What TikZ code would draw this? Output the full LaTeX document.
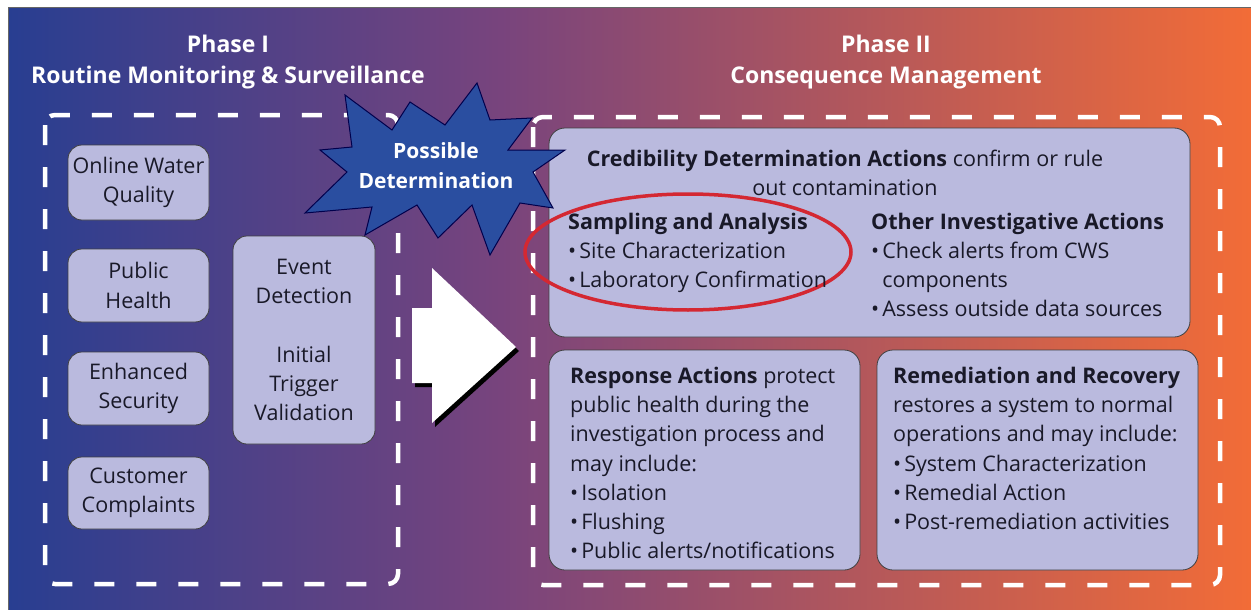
\documentclass[tikz,border=0pt]{standalone}
\usepackage{fontspec}
\setmainfont{Open Sans}
\definecolor{bgA}{RGB}{40,62,145}
\definecolor{bgB}{RGB}{120,68,125}
\definecolor{bgC}{RGB}{242,108,55}
\definecolor{boxfill}{RGB}{186,186,222}
\definecolor{starblue}{RGB}{42,78,160}
\definecolor{ringred}{RGB}{212,40,50}
\definecolor{inktext}{RGB}{25,25,40}
\newcommand\boxfont{\fontsize{21.5}{29.2}\selectfont}
\newcommand\titlefont{\bfseries\fontsize{23}{31}\selectfont}
\newcommand\starfont{\bfseries\fontsize{21}{30}\selectfont}
\newcommand\bul{•\hspace{3pt}}
\begin{document}
\begin{tikzpicture}[x=1pt,y=-1pt,
  dashframe/.style={draw=white, line width=4.5pt, dash pattern=on 20pt off 22pt, rounded corners=10pt},
  srcbox/.style={draw=black!75, fill=boxfill, rounded corners=14pt, line width=0.8pt, inner sep=0pt, align=center, font=\boxfont, text=inktext},
  bigbox/.style={draw=black!75, fill=boxfill, rounded corners=16pt, line width=0.8pt, inner sep=0pt},
  bodytext/.style={anchor=north west, inner sep=0pt, align=left, font=\boxfont, text=inktext},
  titletext/.style={text=white, font=\titlefont, align=center, inner sep=0pt}
]
\useasboundingbox (0,0) rectangle (1251,610);
% background
\fill[white] (0,0) rectangle (1251,610);
\shade[left color=bgA, right color=bgB] (8,8) rectangle (500.5,610);
\shade[left color=bgB, right color=bgC] (500,8) rectangle (1251,610);
\draw[black!60, line width=1pt] (8,610) -- (8,8) -- (1251,8);
% titles
\node[titletext] (p1) at (228,62) {Phase I\\Routine Monitoring \& Surveillance};
\node[titletext] (p2) at (886,62) {Phase II\\Consequence Management};
% dashed frames
\draw[dashframe] (45,115) rectangle (398,584);
\draw[dashframe] (533,117) rectangle (1220,585);
% phase I boxes
\node[srcbox, minimum width=141pt, minimum height=75pt] (owq) at (138.5,182.5) {Online Water\\Quality};
\node[srcbox, minimum width=141pt, minimum height=73pt] (ph) at (138.5,285.5) {Public\\Health};
\node[srcbox, minimum width=141pt, minimum height=73pt] (es) at (138.5,388.5) {Enhanced\\Security};
\node[srcbox, minimum width=141pt, minimum height=72pt] (cc) at (138.5,493) {Customer\\Complaints};
\node[srcbox, minimum width=142pt, minimum height=208pt] (edv) at (304,340) {Event\\Detection\\[29.2pt]Initial\\Trigger\\Validation};
% phase II boxes
\node[bigbox, minimum width=641pt, minimum height=209pt] (cred) at (869.5,232.5) {};
\node[bigbox, minimum width=311pt, minimum height=220pt] (resp) at (704.5,460) {};
\node[bigbox, minimum width=321pt, minimum height=220pt] (rem) at (1037.5,460) {};
% credibility texts
\node[inner sep=0pt, align=center, font=\boxfont, text=inktext] (credtitle) at (845,173) {\textbf{Credibility Determination Actions} confirm or rule\\out contamination};
\draw[ringred, line width=3.5pt] (688,252) ellipse [x radius=163, y radius=58];
\node[bodytext] (samp) at (568,212.5) {\textbf{Sampling and Analysis}\\\bul Site Characterization\\\bul Laboratory Confirmation};
\node[bodytext] (other) at (871,212.5) {\textbf{Other Investigative Actions}\\\bul Check alerts from CWS\\\phantom{\bul}components\\\bul Assess outside data sources};
% response / remediation texts
\node[bodytext] (resptext) at (570,367) {\textbf{Response Actions} protect\\public health during the\\investigation process and\\may include:\\\bul Isolation\\\bul Flushing\\\bul Public alerts/notifications};
\node[bodytext] (remtext) at (893,367) {\textbf{Remediation and Recovery}\\restores a system to normal\\operations and may include:\\\bul System Characterization\\\bul Remedial Action\\\bul Post-remediation activities};
% big arrow
\fill[black, shift={(3,4)}] (412,308) -- (432,308) -- (432,268) -- (516,347) -- (432,423) -- (432,383) -- (412,383) -- cycle;
\fill[white] (412,308) -- (432,308) -- (432,268) -- (516,347) -- (432,423) -- (432,383) -- (412,383) -- cycle;
% starburst
\draw[fill=starblue, draw=black!70!blue, line width=1pt, line join=miter] (345,95) -- (392,130) -- (410,102) -- (445,125) -- (477,83) -- (490,120) -- (532,118) -- (508,150) -- (565,150) -- (533,172) -- (553,208) -- (520,203) -- (490,255) -- (472,205) -- (438,238) -- (417,205) -- (365,235) -- (372,207) -- (305,213) -- (347,172) -- (320,150) -- (352,147) -- cycle;
\node[titletext, font=\starfont] (poss) at (436,166) {Possible\\Determination};
\end{tikzpicture}
\end{document}
